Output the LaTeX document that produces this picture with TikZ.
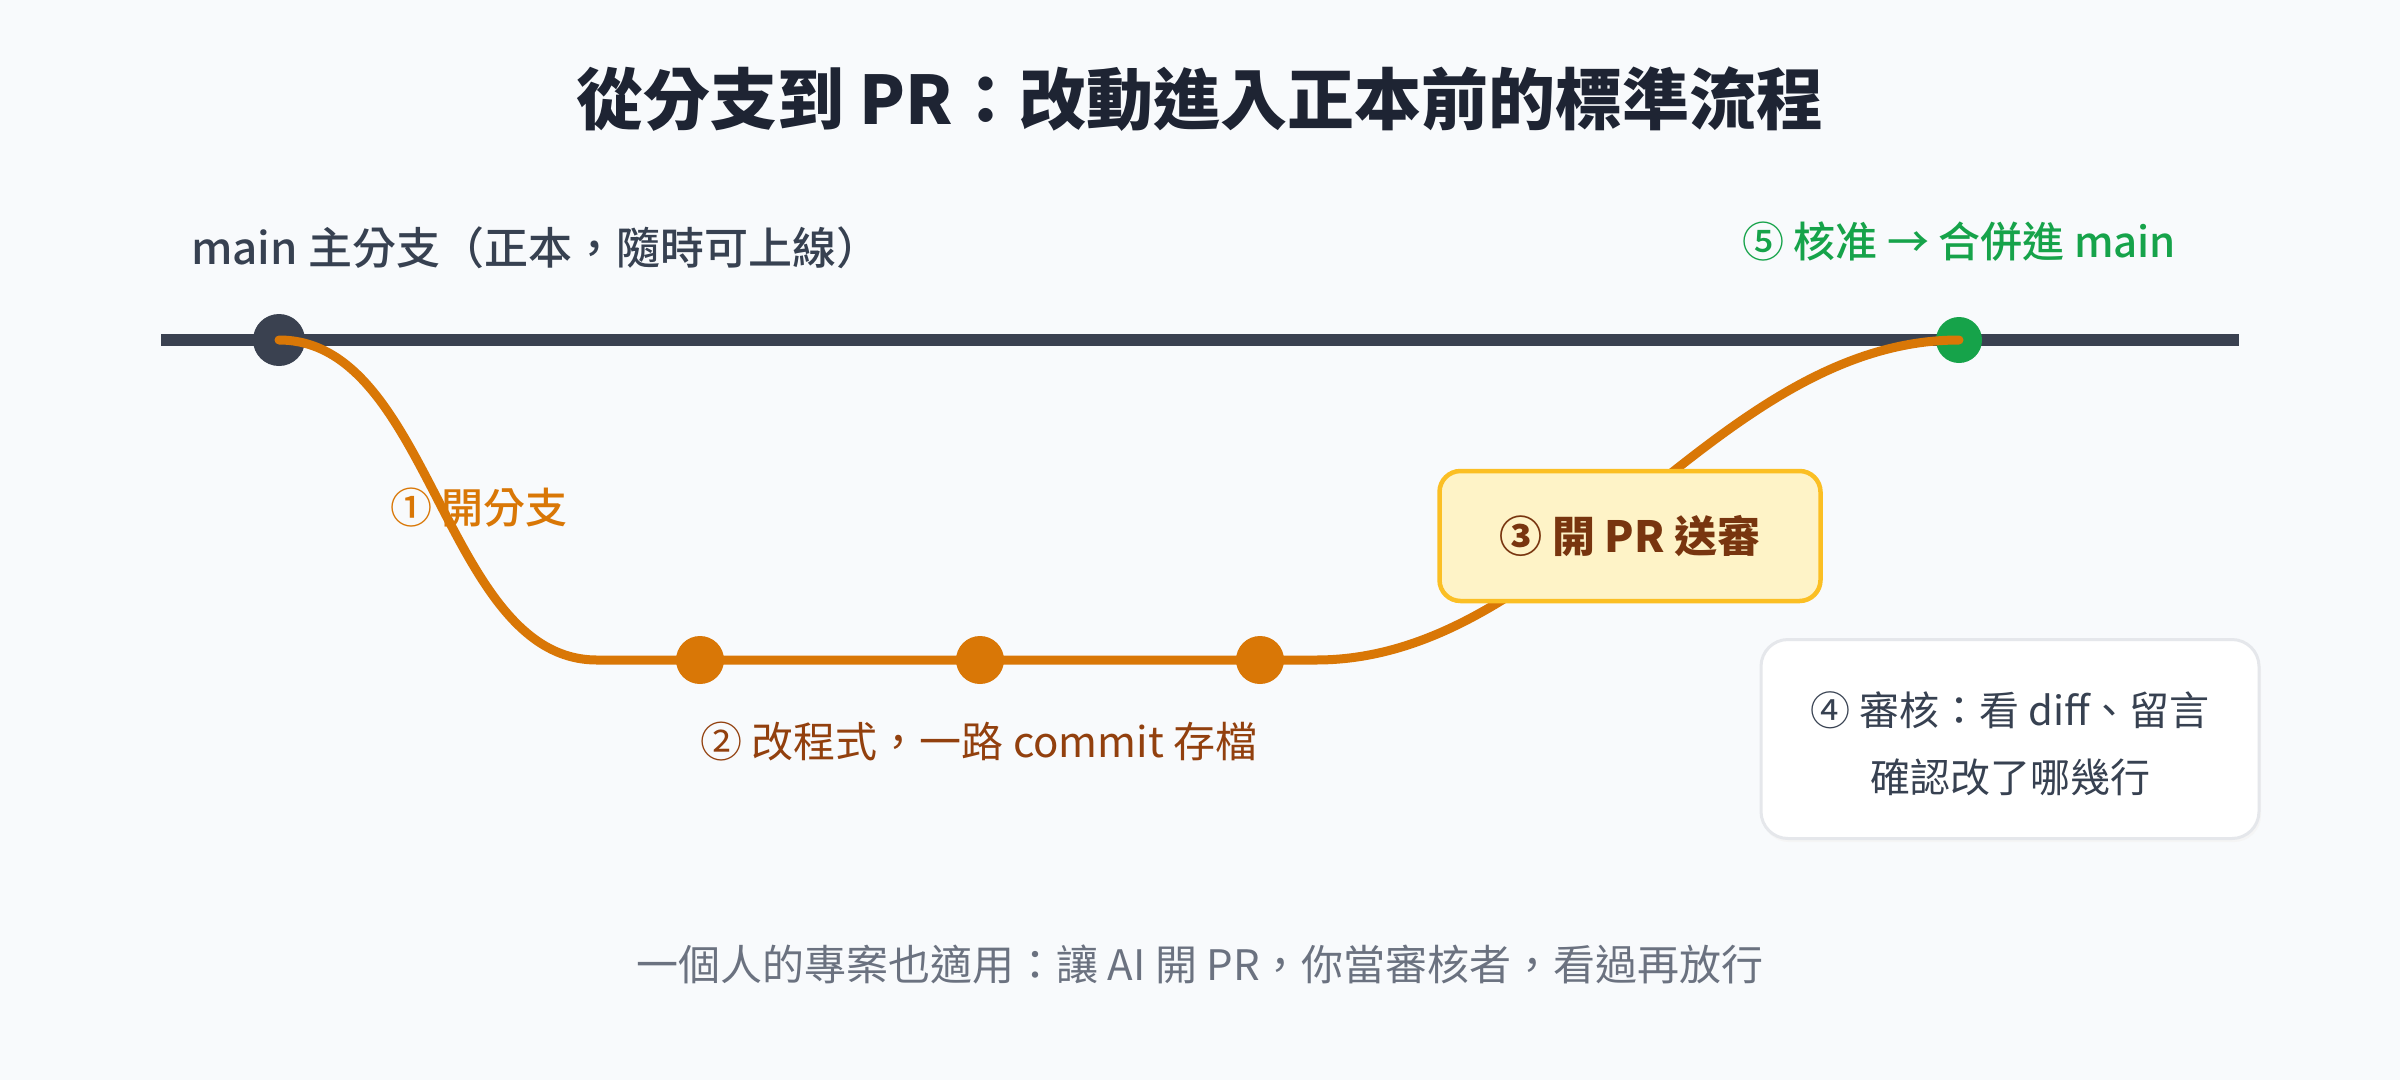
\documentclass[tikz,border=0pt]{standalone}
\usepackage{fontspec}
\setmainfont{Noto Sans CJK TC}
\newfontfamily\medfont{Noto Sans CJK TC Medium}
\definecolor{bg}{HTML}{F8FAFC}
\definecolor{titlec}{HTML}{1E2433}
\definecolor{mainc}{HTML}{3A4150}
\definecolor{orangec}{HTML}{D97706}
\definecolor{greenc}{HTML}{16A34A}
\definecolor{brownc}{HTML}{92400E}
\definecolor{darkbrown}{HTML}{78350F}
\definecolor{yfill}{HTML}{FEF3C7}
\definecolor{yborder}{HTML}{FBBF24}
\definecolor{greyborder}{HTML}{E5E7EB}
\definecolor{textgrey}{HTML}{374151}
\definecolor{footc}{HTML}{6B7280}
\tikzset{
  lbl/.style={inner sep=0pt, font=\fontsize{42}{50}\selectfont},
  dotnode/.style={circle, inner sep=0pt, minimum size=#1},
  branch/.style={draw=orangec, line width=9pt, line cap=round, line join=round},
}
\begin{document}
\begin{tikzpicture}[x=1pt,y=-1pt]
\fill[bg] (0,0) rectangle (2400,1080);
\useasboundingbox (0,0) rectangle (2400,1080);

% title
\node[inner sep=0pt, font=\fontsize{67}{80}\selectfont\bfseries, text=titlec] (title) at (1200,99) {從分支到 PR：改動進入正本前的標準流程};

% main line
\coordinate (mL) at (161,340);
\coordinate (mR) at (2239,340);
\draw[mainc, line width=12pt] (mL) -- (mR);

% dots on main
\node[dotnode=52pt, fill=mainc] (start) at (279,340) {};
\node[dotnode=46pt, fill=greenc] (merge) at (1959,340) {};

% branch path
\coordinate (b1) at (597,660);
\coordinate (b2) at (1316,660);
\draw[branch] (start.center) .. controls (432,340) and (444,660) .. (b1) -- (b2)
  .. controls (1561,660) and (1714,340) .. (merge.center);

% commits
\node[dotnode=48pt, fill=orangec] (c1) at (700,660) {};
\node[dotnode=48pt, fill=orangec] (c2) at (980,660) {};
\node[dotnode=48pt, fill=orangec] (c3) at (1260,660) {};

% labels
\node[inner sep=0pt, anchor=west, font=\fontsize{44}{52}\selectfont\medfont, text=textgrey] (mainlbl) at (191,248) {main 主分支（正本，隨時可上線）};
\node[lbl, anchor=west, font=\fontsize{42}{50}\selectfont\medfont, text=greenc] (mergelbl) at (1742,242) {⑤ 核准 → 合併進 main};
\node[lbl, anchor=west, font=\fontsize{42}{50}\selectfont\medfont, text=orangec] (branchlbl) at (390,508) {① 開分支};
\node[lbl, anchor=west, text=brownc] (commitlbl) at (700,742) {② 改程式，一路 commit 存檔};

% PR box
\node[draw=yborder, fill=yfill, line width=4.5pt, rounded corners=21pt, minimum width=381pt, minimum height=130pt, inner sep=0pt] (prbox) at (1630,536) {};
\node[inner sep=0pt, font=\fontsize{43}{50}\selectfont\bfseries, text=darkbrown] (prlbl) at (prbox.center) {③ 開 PR 送審};

% review box
\fill[black!4, rounded corners=27pt] (1762,643) rectangle (2261,842);
\node[draw=greyborder, fill=white, line width=3pt, rounded corners=27pt, minimum width=498pt, minimum height=199pt, inner sep=0pt] (revbox) at (2010,739) {};
\node[lbl, font=\fontsize{40}{48}\selectfont, text=textgrey] (rev1) at (2010,710) {④ 審核：看 diff、留言};
\node[lbl, font=\fontsize{40}{48}\selectfont, text=textgrey] (rev2) at (2010,777) {確認改了哪幾行};

% footer
\node[lbl, text=footc] (foot) at (1200,964) {一個人的專案也適用：讓 AI 開 PR，你當審核者，看過再放行};
\end{tikzpicture}
\end{document}
